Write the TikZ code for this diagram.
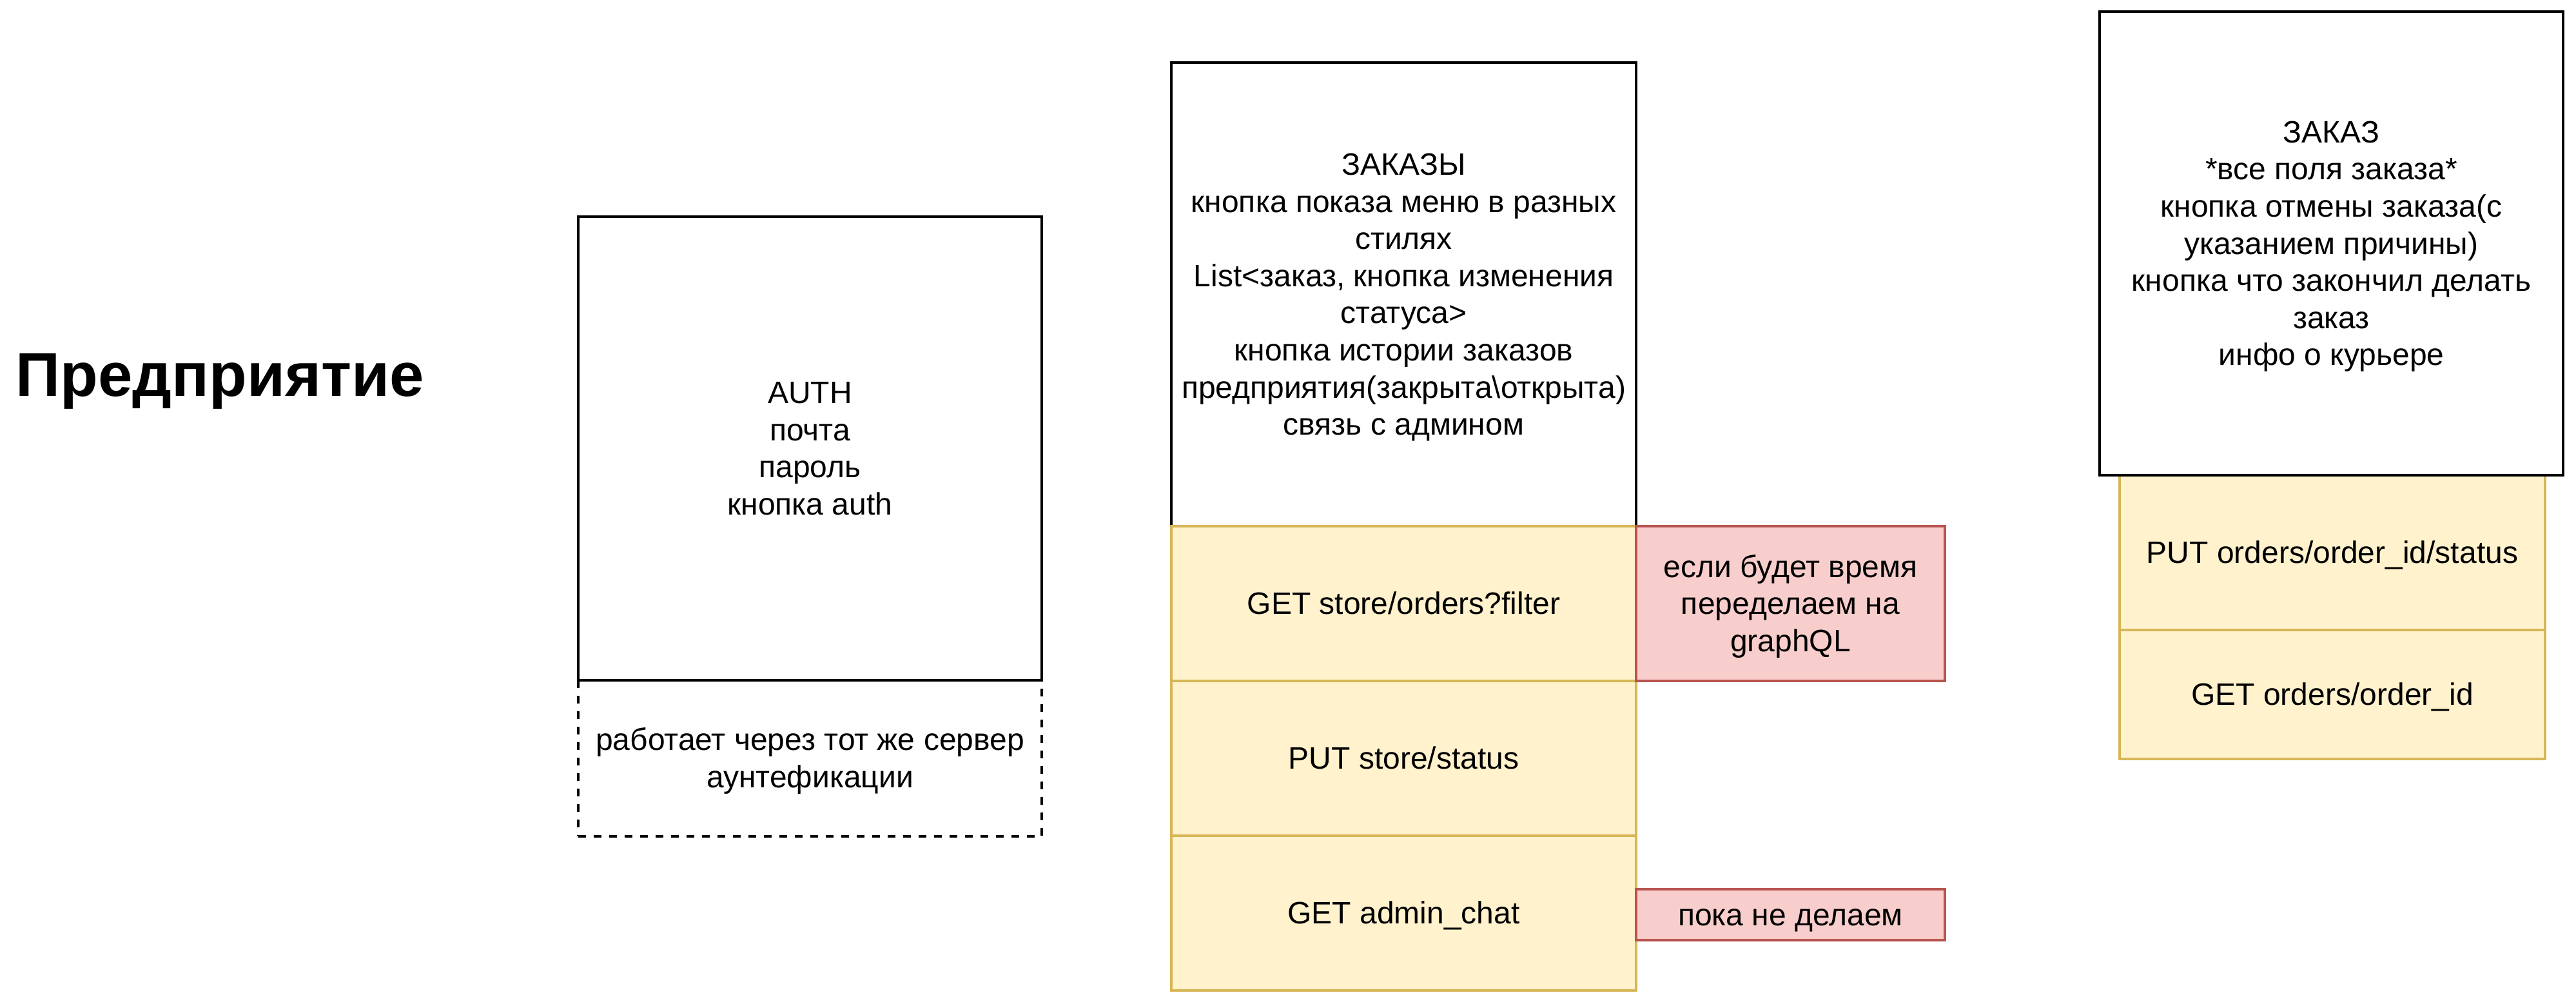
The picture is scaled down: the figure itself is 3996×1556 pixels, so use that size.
\documentclass[tikz,border=0pt]{standalone}
\usepackage{fontspec}
\setmainfont{Liberation Sans}
\definecolor{yfill}{HTML}{FFF2CC}
\definecolor{ydraw}{HTML}{D6B656}
\definecolor{rfill}{HTML}{F8CECC}
\definecolor{rdraw}{HTML}{B85450}
\newcommand{\lnstrut}{\rule[-0.253em]{0pt}{1.2em}}
\tikzset{
  base/.style={rectangle, inner sep=0pt, outer sep=0pt, align=center, line width=1pt,
    font=\fontsize{12}{14.4}\selectfont},
  oneline/.style={execute at begin node=\lnstrut},
  screen/.style={base, draw=black, fill=white},
  apibox/.style={base, oneline, draw=ydraw, fill=yfill},
  notebox/.style={base, draw=rdraw, fill=rfill},
  dashbox/.style={base, draw=black, dash pattern=on 3pt off 3pt},
  titlestyle/.style={inner sep=0pt, font=\fontsize{24}{28.8}\selectfont\bfseries,
    execute at begin node=\lnstrut},
}
\begin{document}
\begin{tikzpicture}[x=0.25pt, y=-0.25pt]
\useasboundingbox (0,0) rectangle (3996,1556);
% title
\node[titlestyle, anchor=center] (title) at (341,581) {Предприятие};
% AUTH
\node[screen, minimum width=179.75pt, minimum height=179.75pt] (auth) at (1256.5,695.5)
  {\lnstrut AUTH\\почта\\пароль\\кнопка auth\lnstrut};
\node[dashbox, minimum width=179.75pt, minimum height=60.5pt] (authnote) at (1256.5,1176)
  {\lnstrut работает через тот же сервер\\аунтефикации\lnstrut};
% ЗАКАЗЫ
\node[screen, minimum width=180.25pt, minimum height=179.75pt] (orders) at (2177.5,456.5)
  {\lnstrut ЗАКАЗЫ\\кнопка показа меню в разных\\стилях\\List<заказ, кнопка изменения\\статуса>\\кнопка истории заказов\\предприятия(закрыта\textbackslash открыта)\\связь с админом\lnstrut};
\node[apibox, minimum width=180.25pt, minimum height=60pt] (getorders) at (2177.5,936)
  {GET store/orders?filter};
\node[apibox, minimum width=180.25pt, minimum height=60pt] (putstatus) at (2177.5,1176)
  {PUT store/status};
\node[apibox, minimum width=180.25pt, minimum height=60pt] (getchat) at (2177.5,1416)
  {GET admin\_chat};
\node[notebox, minimum width=119.75pt, minimum height=60pt] (note1) at (2777.5,936)
  {\lnstrut если будет время\\переделаем на\\graphQL\lnstrut};
\node[notebox, oneline, minimum width=119.75pt, minimum height=19.75pt] (note2) at (2777.5,1418.5)
  {пока не делаем};
% ЗАКАЗ
\node[apibox, minimum width=165pt, minimum height=60pt] (putorder) at (3618,857)
  {PUT orders/order\_id/status};
\node[apibox, minimum width=165pt, minimum height=50pt] (getorder) at (3618,1077)
  {GET orders/order\_id};
\node[screen, minimum width=179.75pt, minimum height=179.75pt] (order) at (3616.5,377.5)
  {\lnstrut ЗАКАЗ\\*все поля заказа*\\кнопка отмены заказа(с\\указанием причины)\\кнопка что закончил делать\\заказ\\инфо о курьере\lnstrut};
\end{tikzpicture}
\end{document}
